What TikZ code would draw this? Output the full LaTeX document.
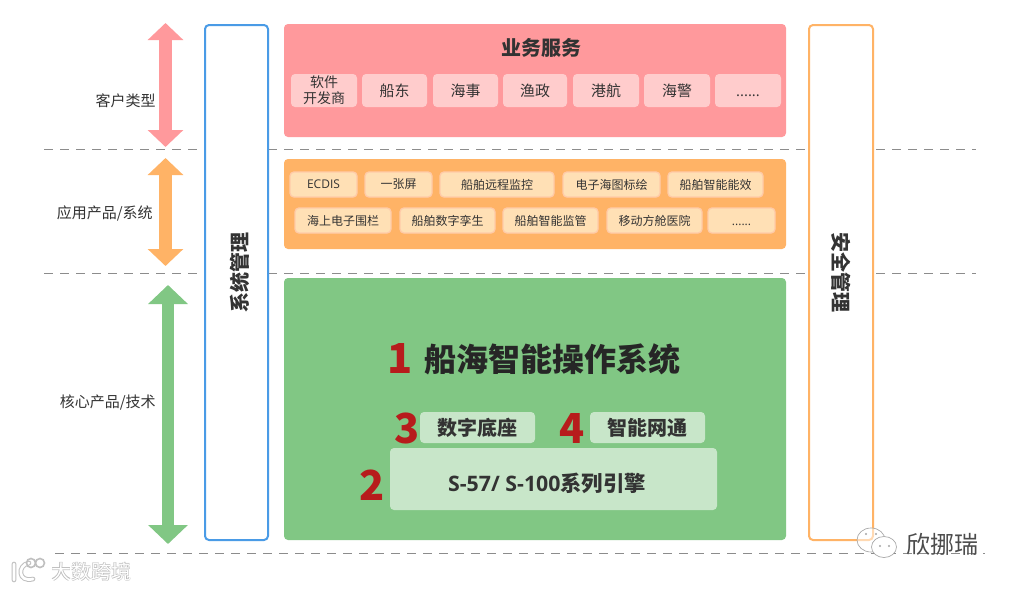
\documentclass[tikz,border=0pt]{standalone}
\usepackage{fontspec}
\usepackage{xcolor}
\usepackage{tikz}
\usetikzlibrary{arrows.meta}
\setmainfont{Noto Sans CJK SC}
\newfontfamily\latinfont{Open Sans}
\definecolor{pinkmain}{HTML}{FF999C}
\definecolor{pinklight}{HTML}{FFCCCC}
\definecolor{orangemain}{HTML}{FFB366}
\definecolor{orangelight}{HTML}{FFE0B5}
\definecolor{orangeedge}{HTML}{FFCBA8}
\definecolor{greenmain}{HTML}{81C784}
\definecolor{greenlight}{HTML}{C8E6C9}
\definecolor{bluemain}{HTML}{4A9BE6}
\definecolor{numred}{HTML}{B71C1C}
\definecolor{textdark}{HTML}{333333}
\tikzset{
    wh/.style 2 args={minimum width=#1*0.75pt, minimum height=#2*0.75pt},
    panel/.style={rectangle, rounded corners=3pt, inner sep=0pt},
    pinkitem/.style={panel, fill=pinklight, text=textdark, font=\fontsize{11.2pt}{12pt}\selectfont, align=center},
    orangeitem/.style={panel, fill=orangelight, draw=orangeedge, line width=1pt, text=textdark, font=\fontsize{9pt}{11pt}\selectfont},
    greenitem/.style={panel, fill=greenlight, text=textdark, font=\fontsize{15pt}{17pt}\selectfont\bfseries},
    sidebox/.style={panel, fill=white, line width=1.5pt, text=textdark, font=\fontsize{15pt}{17pt}\selectfont\bfseries},
    sidelabel/.style={inner sep=0pt, anchor=east, text=textdark, font=\fontsize{11.25pt}{13pt}\selectfont},
    bignum/.style={inner sep=0pt, text=numred, font=\fontsize{31pt}{33pt}\selectfont\bfseries},
    divider/.style={draw=gray!90, line width=0.75pt, dash pattern=on 6.75pt off 5.25pt},
    bigarrow/.style={line width=9.5pt, draw=#1}
}
\begin{document}
\begin{tikzpicture}[x=0.75pt, y=-0.75pt]
    \useasboundingbox[fill=white] (0,0) rectangle (1011,590);

    \coordinate (lineAl) at (44,149.5);
    \coordinate (lineAr) at (976,149.5);
    \coordinate (lineBl) at (44,273.5);
    \coordinate (lineBr) at (976,273.5);
    \coordinate (lineCl) at (55,553.5);
    \coordinate (lineCr) at (985,553.5);
    \draw[divider] (lineAl) -- (lineAr);
    \draw[divider] (lineBl) -- (lineBr);
    \draw[divider] (lineCl) -- (lineCr);

    \coordinate (pinkTop) at (165.5,23);
    \coordinate (pinkEnd) at (165.5,147);
    \coordinate (orangeTop) at (165.5,158);
    \coordinate (orangeEnd) at (165.5,266);
    \coordinate (greenTop) at (168,285);
    \coordinate (greenEnd) at (168,544);
    \draw[bigarrow=pinkmain, {Triangle[length=12.75pt,width=26pt]}-{Triangle[length=12.75pt,width=26pt]}] (pinkTop) -- (pinkEnd);
    \draw[bigarrow=orangemain, {Triangle[length=12.75pt,width=26pt]}-{Triangle[length=12.75pt,width=26pt]}] (orangeTop) -- (orangeEnd);
    \draw[bigarrow=greenmain, {Triangle[length=14.25pt,width=29pt]}-{Triangle[length=14.25pt,width=29pt]}] (greenTop) -- (greenEnd);

    \node[sidelabel] (labelCustomer) at (156,101) {客户类型};
    \node[sidelabel] (labelApp) at (153,213.5) {应用产品/系统};
    \node[sidelabel] (labelCore) at (156,402.5) {核心产品/技术};

    \node[sidebox, draw=bluemain, wh={63}{515}] (sysBox) at (236.5,282.5) {};
    \node[rotate=90, inner sep=0pt, text=textdark, font=\fontsize{15pt}{17pt}\selectfont\bfseries] (sysText) at (240,272) {系统管理};
    \node[sidebox, draw=orangemain, wh={64}{515}] (safeBox) at (841,282.5) {};
    \node[rotate=-90, inner sep=0pt, text=textdark, font=\fontsize{15pt}{17pt}\selectfont\bfseries] (safeText) at (841,272) {安全管理};

    \node[panel, fill=pinkmain, wh={502}{113}] (servicePanel) at (535,80.5) {};
    \node[inner sep=0pt, text=textdark, font=\fontsize{15pt}{17pt}\selectfont\bfseries] (serviceTitle) at (541.5,48) {业务服务};
    \node[pinkitem, wh={66}{33}, font=\fontsize{10.5pt}{12pt}\selectfont] (itemSoft) at (324,90.5) {软件\\开发商};
    \node[pinkitem, wh={65}{33}] (itemOwner) at (394.5,90.5) {船东};
    \node[pinkitem, wh={65}{33}] (itemMsa) at (465.5,90.5) {海事};
    \node[pinkitem, wh={64}{33}] (itemFish) at (535,90.5) {渔政};
    \node[pinkitem, wh={66}{33}] (itemPort) at (606,90.5) {港航};
    \node[pinkitem, wh={66}{33}] (itemGuard) at (677,90.5) {海警};
    \node[pinkitem, wh={66}{33}] (itemMore) at (748,90.5) {\vphantom{船}\latinfont......};

    \node[panel, fill=orangemain, wh={502}{90}] (appPanel) at (535,204) {};
    \node[orangeitem, wh={67}{25}] (appEcdis) at (323.5,184.5) {\latinfont ECDIS};
    \node[orangeitem, wh={67}{25}] (appScreen) at (398.5,184.5) {一张屏};
    \node[orangeitem, wh={114}{25}] (appRemote) at (497,184.5) {船舶远程监控};
    \node[orangeitem, wh={97}{25}] (appChart) at (611.5,184.5) {电子海图标绘};
    \node[orangeitem, wh={95}{25}] (appEnergy) at (715.5,184.5) {船舶智能能效};
    \node[orangeitem, wh={96}{25}] (appFence) at (343,220.5) {海上电子围栏};
    \node[orangeitem, wh={95}{25}] (appTwin) at (447.5,220.5) {船舶数字孪生};
    \node[orangeitem, wh={95}{25}] (appSuper) at (550.5,220.5) {船舶智能监管};
    \node[orangeitem, wh={95}{25}] (appHospital) at (654.5,220.5) {移动方舱医院};
    \node[orangeitem, wh={67}{25}] (appMore) at (741.5,220.5) {\vphantom{船}\latinfont......};

    \node[panel, fill=greenmain, wh={502}{262}] (corePanel) at (535,409) {};
    \node[inner sep=0pt, text=black!85, font=\fontsize{24pt}{26pt}\selectfont\bfseries] (coreTitle) at (552,359) {船海智能操作系统};
    \node[bignum] (numOne) at (400,358) {1};
    \node[bignum] (numThree) at (407,428) {3};
    \node[bignum] (numFour) at (572,428) {4};
    \node[bignum] (numTwo) at (372,485) {2};
    \node[greenitem, wh={115}{31}] (coreBase) at (477.5,427.5) {数字底座};
    \node[greenitem, wh={115}{31}] (coreNet) at (647.5,427.5) {智能网通};
    \node[greenitem, wh={327}{62}] (coreEngine) at (553.5,479) {};
    \node[inner sep=0pt, text=textdark, font=\fontsize{16pt}{18pt}\selectfont\bfseries] (coreEngineText) at (547,483) {{\latinfont S-57/ S-100}系列引擎};

    \node[inner sep=0pt, text=gray!55, font=\fontsize{15pt}{17pt}\selectfont\bfseries] (markBack) at (91,571.5) {大数跨境};
    \node[inner sep=0pt, text=white, font=\fontsize{15pt}{17pt}\selectfont] (markFront) at (91,571.5) {大数跨境};
    \draw[gray!50, line width=3.5pt, line cap=round] (14,564) -- (14,580) (29,563) .. controls (17,565) and (18,583) .. (33,579);
    \draw[white, line width=2pt, line cap=round] (14,564) -- (14,580) (29,563) .. controls (17,565) and (18,583) .. (33,579);
    \draw[gray!50, line width=1.2pt] (31,563) circle (4.5) (40,563) circle (4.5);

    \draw[gray!70, fill=white, fill opacity=0.5, line width=0.5pt] (871,540) ellipse (14 and 12);
    \draw[gray!70, fill=white, line width=0.5pt] (884,547) ellipse (12.5 and 10.5);
    \fill[gray!70] (866,534) circle (1.2) (876,534) circle (1.2) (880,546) circle (1.2) (889,546) circle (1.2);
    \node[inner sep=0pt, text=black!70, font=\fontsize{18pt}{20pt}\selectfont] (markName) at (942,544) {欣挪瑞};
\end{tikzpicture}
\end{document}
